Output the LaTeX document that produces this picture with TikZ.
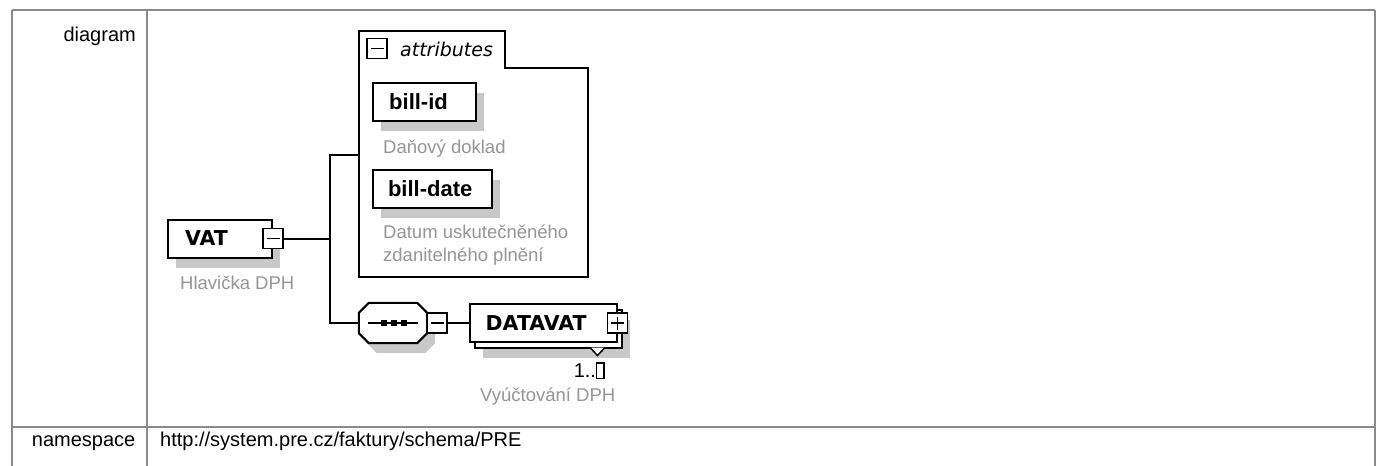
\documentclass[tikz,border=0pt]{standalone}
\usepackage{fontspec}
\setmainfont{Liberation Sans}
\newfontfamily\djv{DejaVu Sans}
\usetikzlibrary{shadows}
\definecolor{tblgray}{RGB}{138,138,138}
\definecolor{descgray}{RGB}{150,150,150}
\definecolor{shadowgray}{RGB}{200,200,200}
\tikzset{
  tbl/.style={draw=tblgray, line width=2pt},
  conn/.style={draw=black, line width=2pt},
  shad/.style={drop shadow={shadow xshift=8pt, shadow yshift=-10pt, fill=shadowgray, opacity=1}},
  elbox/.style={draw=black, fill=white, line width=2pt, inner sep=0pt, minimum height=38pt},
  seqframe/.style={draw=none, inner sep=0pt, minimum width=68pt, minimum height=40pt},
  octline/.style={draw=black, fill=white, line width=2pt},
  pmbox/.style={draw=black, fill=white, line width=1.6pt, inner sep=0pt, minimum size=20pt},
  minus/.style={path picture={\draw[line width=1.6pt] ([xshift=3.5pt]path picture bounding box.west) -- ([xshift=-3.5pt]path picture bounding box.east);}},
  plus/.style={path picture={\draw[line width=1.6pt] ([xshift=3.5pt]path picture bounding box.west) -- ([xshift=-3.5pt]path picture bounding box.east);
      \draw[line width=1.6pt] ([yshift=-3.5pt]path picture bounding box.north) -- ([yshift=3.5pt]path picture bounding box.south);}},
  celltxt/.style={font=\fontsize{20}{24}\selectfont, inner sep=0pt, text=black},
  desc/.style={font=\fontsize{18.5}{23}\selectfont, text=descgray, inner sep=0pt},
  elname/.style={font=\djv\bfseries\fontsize{20.5}{24}\selectfont, inner sep=0pt, anchor=west},
  attname/.style={font=\bfseries\fontsize{22}{26}\selectfont, inner sep=0pt, anchor=west},
  attrtitle/.style={font=\djv\itshape\fontsize{19}{24}\selectfont, inner sep=0pt},
  card/.style={font=\fontsize{20}{24}\selectfont, inner sep=0pt, text=black},
}
\newcommand{\tofubox}{{\setlength{\fboxsep}{0pt}\setlength{\fboxrule}{1.4pt}\fbox{\rule{0pt}{14pt}\hspace{6pt}}}}
% octagon outline round node (seq), shifted by (#1,#2)
\newcommand{\octpath}[2]{([shift={(#1+10,#2)}]seq.north west) -- ([shift={(#1-10,#2)}]seq.north east)
   -- ([shift={(#1,#2+10)}]seq.north east) -- ([shift={(#1,#2-10)}]seq.south east)
   -- ([shift={(#1-10,#2)}]seq.south east) -- ([shift={(#1+10,#2)}]seq.south west)
   -- ([shift={(#1,#2-10)}]seq.south west) -- ([shift={(#1,#2+10)}]seq.north west) -- cycle}
\begin{document}
\begin{tikzpicture}[x=1pt,y=-1pt]
\useasboundingbox (0,0) rectangle (1377,466);
\fill[white] (0,0) rectangle (1377,466);

% table
\draw[tbl] (11.5,10) -- (1374.5,10);
\draw[tbl] (11.5,10) -- (11.5,466);
\draw[tbl] (1374.5,10) -- (1374.5,466);
\draw[tbl] (146.5,10) -- (146.5,466);
\draw[tbl] (11.5,426.5) -- (1374.5,426.5);
\node[celltxt, anchor=base east] (lbldiag) at (136,41) {diagram};
\node[celltxt, anchor=base east] (lblns) at (135.5,446) {namespace};
\node[celltxt, anchor=base west] (nsval) at (160,446) {http://system.pre.cz/faktury/schema/PRE};

% attributes box
\draw[draw=black, fill=white, line width=2pt] (359,31) -- (505,31) -- (505,68) -- (588,68) -- (588,277) -- (359,277) -- cycle;
\coordinate (attrL) at (359,155);
\node[pmbox, minus] (attrminus) at (377,48.5) {};
\node[attrtitle, anchor=base west] (attrtxt) at (400,56.5) {attributes};

% bill-id
\node[elbox, shad, minimum width=103pt] (billid) at (424.5,102) {};
\node[attname] (billidtxt) at ([xshift=17pt]billid.west) {bill-id};
\node[desc, anchor=base west] (billiddesc) at (383,153) {Daňový doklad};

% bill-date
\node[elbox, shad, minimum width=119pt] (billdate) at (432.3,188.7) {};
\node[attname] (billdatetxt) at ([xshift=16pt]billdate.west) {bill-date};
\node[desc, anchor=base west] (billdatedesc) at (383,238) {Datum uskutečněného};
\node[desc, anchor=base west] (billdatedesc2) at (383,261.5) {zdanitelného plnění};

% VAT
\node[elbox, shad, minimum width=104pt] (vat) at (220,238.5) {};
\node[elname] (vattxt) at ([xshift=18pt]vat.west) {VAT};
\node[pmbox, minus] (vatminus) at (vat.east) {};
\node[desc, anchor=base west] (vatdesc) at (180,289.5) {Hlavička DPH};

% sequence (octagon)
\node[seqframe] (seq) at (393,323) {};
\fill[shadowgray] \octpath{8}{10};
\path[octline] \octpath{0}{0};
\draw[line width=1.6pt] ([xshift=-25pt]seq.center) -- ([xshift=25pt]seq.center);
\fill ([shift={(-12,-3)}]seq.center) rectangle ([shift={(-6,3)}]seq.center);
\fill ([shift={(-2,-3)}]seq.center) rectangle ([shift={(4,3)}]seq.center);
\fill ([shift={(8,-3)}]seq.center) rectangle ([shift={(14,3)}]seq.center);
\node[pmbox, minus] (seqminus) at ([xshift=10pt]seq.east) {};

% DATAVAT
\node[elbox, shad, minimum width=147pt] (dvback) at (548.5,329) {};
\node[elbox, minimum width=147pt] (datavat) at (543,323) {};
\node[elname] (datavattxt) at ([xshift=17pt]datavat.west) {DATAVAT};
\node[pmbox, plus] (dvplus) at (datavat.east) {};
\draw[draw=black, fill=white, line width=1.5pt] (590,347.5) -- (597.5,355.5) -- (605,347.5);
\node[card, anchor=base east] (dvcard) at (605,377.5) {1..\tofubox};
\node[desc, anchor=base west] (dvdesc) at (480,401.5) {Vyúčtování DPH};

% connectors
\coordinate (jtop) at (330,155);
\coordinate (jbot) at (330,323);
\draw[conn] (vatminus.east) -- (vatminus.east -| jtop);
\draw[conn] (attrL) -- (jtop) -- (jbot) -- (seq.west);
\draw[conn] (seqminus.east) -- (datavat.west);
\end{tikzpicture}
\end{document}
